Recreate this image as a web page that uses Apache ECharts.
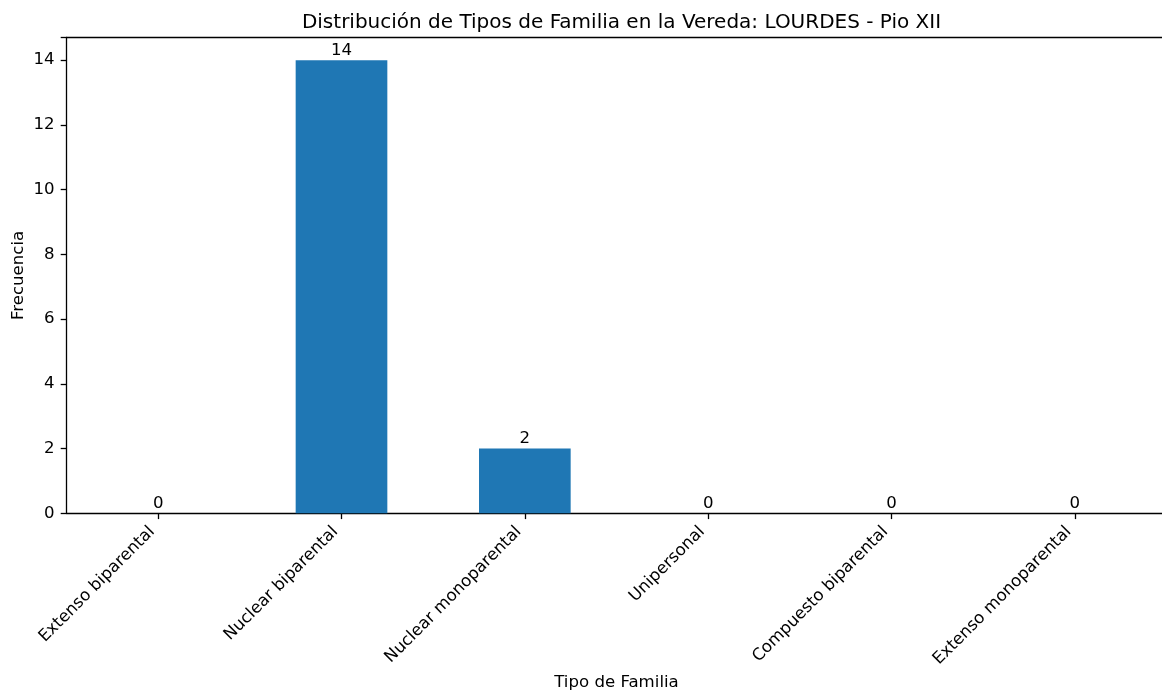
<!DOCTYPE html>
<html>
<head>
<meta charset="utf-8">
<script src="https://cdn.jsdelivr.net/npm/echarts@6/dist/echarts.min.js"></script>
<style>
html,body{margin:0;padding:0;background:#fff;}
#c{width:1162px;height:690px;}
</style>
</head>
<body>
<div id="c"></div>
<script>
const titleText = 'Distribución de Tipos de Familia en la Vereda: LOURDES - Pio XII';
const categories = ['Extenso biparental','Nuclear biparental','Nuclear monoparental','Unipersonal','Compuesto biparental','Extenso monoparental'];
const frecuencias = [0, 14, 2, 0, 0, 0];
const yTicks = [0, 2, 4, 6, 8, 10, 12, 14];
const xName = 'Tipo de Familia';
const yName = 'Frecuencia';

const FONT = 'DejaVu Sans';
const FS = 16.6;
const chart = echarts.init(document.getElementById('c'), null, {renderer:'canvas'});
chart.setOption({
  animation: false,
  backgroundColor: '#fff',
  title: {
    text: titleText, left: 616.5, textAlign: 'center', top: 8,
    textStyle: {fontFamily: FONT, fontSize: 20, fontWeight: 'normal', color: '#000'}
  },
  grid: {left: 66.5, top: 37.5, width: 1100, height: 475.8, containLabel: false, outerBoundsMode: 'none'},
  xAxis: [{
    type: 'category', data: categories, position: 'bottom',
    boundaryGap: true,
    name: xName, nameLocation: 'middle', nameGap: 161, nameMoveOverlap: false,
    nameTextStyle: {fontFamily: FONT, fontSize: FS, color: '#000'},
    axisLine: {show: true, lineStyle: {color: '#000', width: 1.3}},
    axisTick: {show: true, alignWithLabel: true, length: 5.8, lineStyle: {color: '#000', width: 1.3}},
    axisLabel: {rotate: 45, interval: 0, margin: 22, verticalAlign: 'bottom', align: 'right',
      fontFamily: FONT, fontSize: FS, color: '#000'},
    splitLine: {show: false}
  }, {
    type: 'category', data: categories, position: 'top',
    axisLine: {show: true, onZero: false, lineStyle: {color: '#000', width: 1.3}},
    axisTick: {show: false}, axisLabel: {show: false}, splitLine: {show: false}
  }],
  yAxis: {
    type: 'value', min: 0, max: 14.7, interval: 2,
    name: yName, nameLocation: 'middle', nameGap: 39, nameMoveOverlap: false,
    nameTextStyle: {fontFamily: FONT, fontSize: FS, color: '#000'},
    axisLine: {show: true, lineStyle: {color: '#000', width: 1.3}},
    axisTick: {show: true, length: 5.8, lineStyle: {color: '#000', width: 1.3}},
    axisLabel: {margin: 12, fontFamily: FONT, fontSize: FS, color: '#000',
      formatter: v => yTicks.includes(v) ? String(v) : ''},
    splitLine: {show: false}
  },
  series: [{
    type: 'bar', data: frecuencias, barWidth: '50%', xAxisIndex: 0,
    itemStyle: {color: '#1f77b4'},
    label: {show: true, position: 'top', distance: 1, fontFamily: FONT, fontSize: FS, color: '#000'}
  }]
});
</script>
</body>
</html>
